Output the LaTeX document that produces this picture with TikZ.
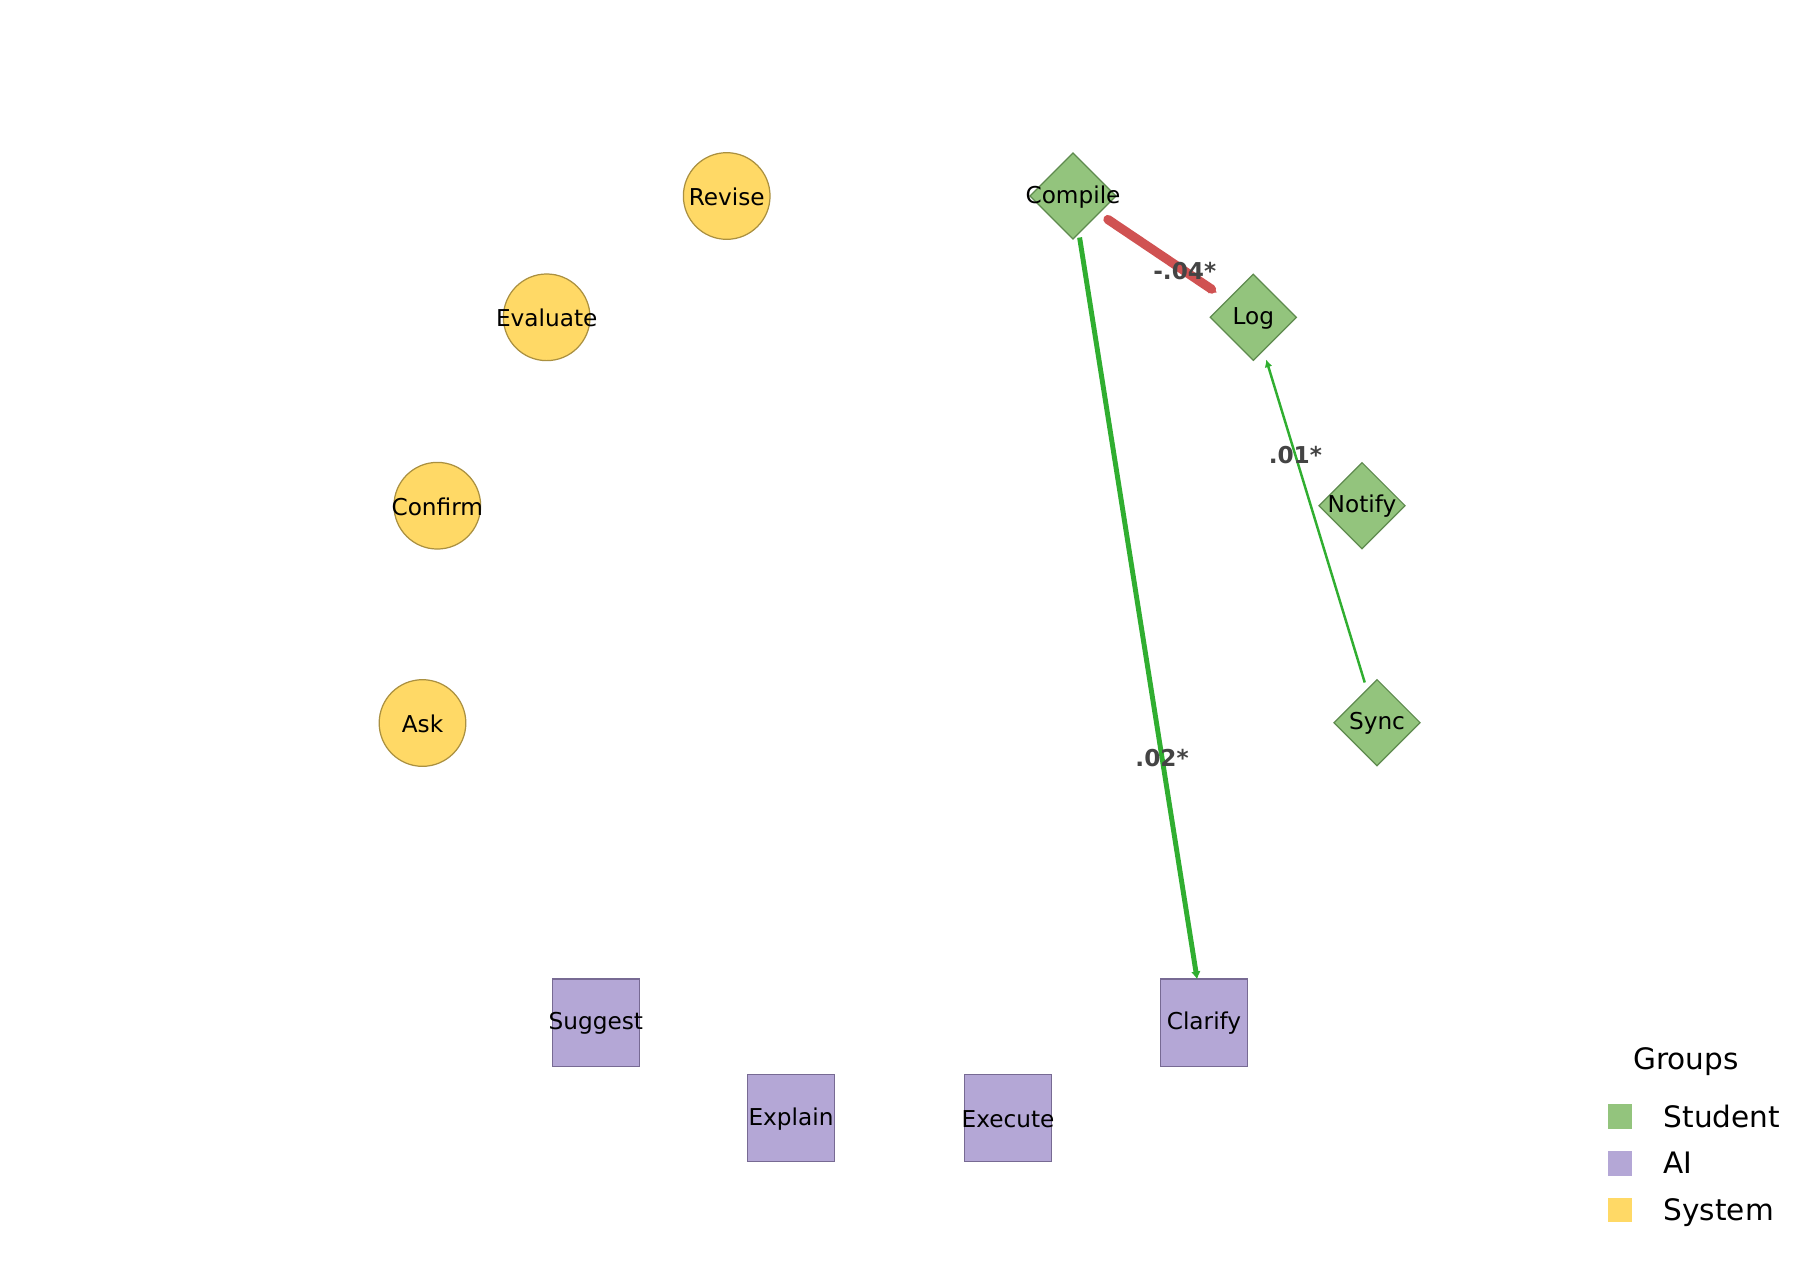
\documentclass[tikz,border=0pt]{standalone}
\usepackage{fontspec}
\setmainfont{DejaVu Sans}
\usetikzlibrary{arrows.meta,shapes.geometric}
\tikzset{>=latex}
\definecolor{stuFill}{HTML}{93C47D}
\definecolor{stuLine}{HTML}{5E8A4E}
\definecolor{aiFill}{HTML}{B4A7D6}
\definecolor{aiLine}{HTML}{776A93}
\definecolor{sysFill}{HTML}{FFD966}
\definecolor{sysLine}{HTML}{AA9040}
\definecolor{negEdge}{HTML}{D05252}
\definecolor{posEdge}{HTML}{30AE30}
\definecolor{lblGray}{HTML}{444444}

\begin{document}
\begin{tikzpicture}[x=0.01cm,y=-0.01cm,
    lbl/.style={font=\fontsize{6.6}{8}\selectfont, anchor=mid, yshift=-0.2pt},
    sys/.style={circle, draw=sysLine, fill=sysFill, line width=0.35pt, inner sep=0pt, minimum size=0.866cm},
    stu/.style={diamond, aspect=1, draw=stuLine, fill=stuFill, line width=0.35pt, inner sep=0pt, minimum size=0.866cm},
    ai/.style={rectangle, draw=aiLine, fill=aiFill, line width=0.35pt, inner sep=0pt, minimum size=0.873cm},
    elbl/.style={font=\bfseries\fontsize{6.6}{8}\selectfont, text=lblGray, inner sep=0pt},
    clip/.style={shorten <=0.42cm, shorten >=0.44cm},
    key/.style={rectangle, inner sep=0pt, minimum size=0.246cm},
    keytxt/.style={anchor=mid west, inner sep=0pt, yshift=-0.3pt, font=\fontsize{8.4}{10}\selectfont}]
  \useasboundingbox (0,0) rectangle (1800,1260);

  % System
  \node[sys, label={[lbl]center:Revise}]   (rev)  at (726.7,196) {};
  \node[sys, label={[lbl]center:Evaluate}] (eval) at (546.7,317.3) {};
  \node[sys, label={[lbl]center:Confirm}]  (conf) at (437.3,505.7) {};
  \node[sys, label={[lbl]center:Ask}]      (ask)  at (422.5,723) {};
  % Student
  \node[stu, label={[lbl]center:Compile}]  (comp) at (1073,196) {};
  \node[stu, label={[lbl]center:Log}]      (log)  at (1253.3,317.3) {};
  \node[stu, label={[lbl]center:Notify}]   (noti) at (1362,505.7) {};
  \node[stu, label={[lbl]center:Sync}]     (sync) at (1377,722.7) {};
  % AI
  \node[ai, label={[lbl]center:Suggest}]   (sugg) at (595.8,1022.7) {};
  \node[ai, label={[lbl]center:Explain}]   (expl) at (791,1118) {};
  \node[ai, label={[lbl]center:Execute}]   (exec) at (1008,1118) {};
  \node[ai, label={[lbl]center:Clarify}]   (clar) at (1204,1022.7) {};

  \path
    (comp.center) edge[clip, negEdge, line width=2.6pt, line cap=round, -{Latex[length=2pt,width=3.2pt]}]
      node[elbl, pos=0.62] {-.04*} (log.center)
    (comp.center) edge[clip, posEdge, line width=1.4pt, -{Latex[length=2.2pt,width=2.8pt]}]
      node[elbl, pos=0.68] {.02*} (clar.center)
    (sync.center) edge[clip, posEdge, line width=0.7pt, -{Latex[length=2.2pt,width=2.2pt]}]
      node[elbl, pos=0.66] {.01*} (log.center);

  % legend
  \node[font=\fontsize{8.4}{10}\selectfont] (ttl) at (1686,1061.7) {Groups};
  \node[key, fill=stuFill] (k1) at (1620,1116.7) {};
  \node[key, fill=aiFill]  (k2) at (1620,1163.3) {};
  \node[key, fill=sysFill] (k3) at (1620,1210) {};
  \node[keytxt] (t1) at (1663,1116.7) {Student};
  \node[keytxt] (t2) at (1663,1163.3) {AI};
  \node[keytxt] (t3) at (1663,1210) {System};
\end{tikzpicture}
\end{document}
